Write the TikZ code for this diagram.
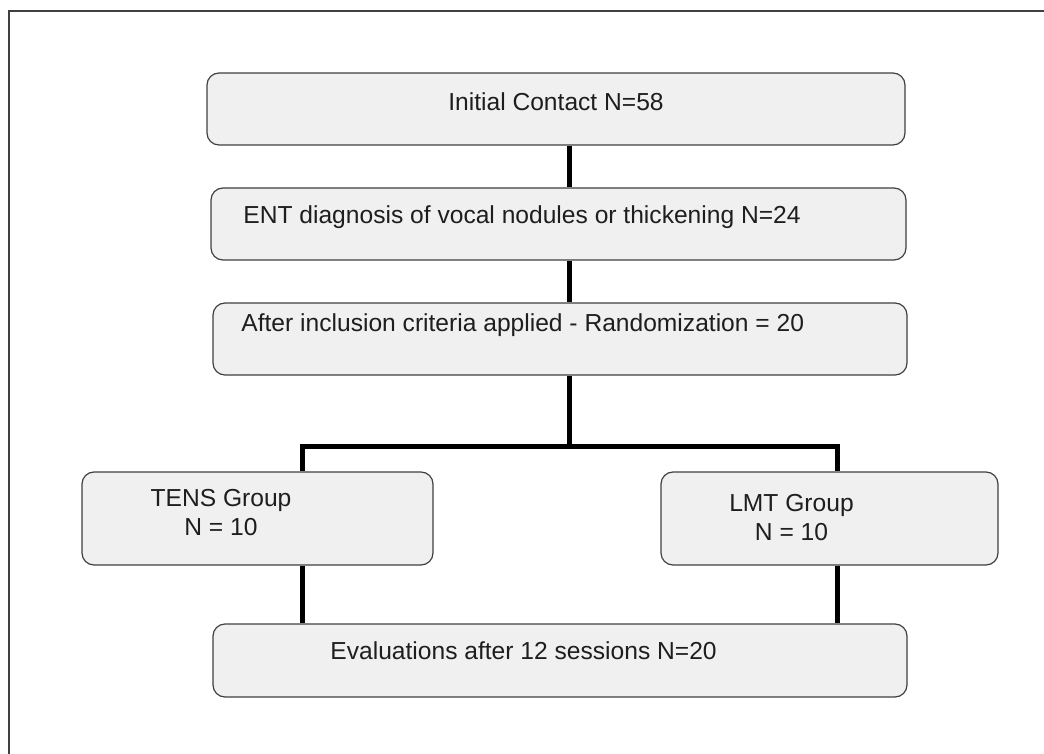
\documentclass[tikz,border=0pt]{standalone}
\usepackage{fontspec}
\setmainfont{Liberation Sans}
\usepackage{xcolor}
\usetikzlibrary{positioning, calc}
\definecolor{boxfill}{HTML}{F0F0F0}
\definecolor{boxline}{HTML}{404040}
\definecolor{txtcol}{HTML}{1E1E1E}
\tikzset{
  % flow box style
  fbox/.style={
    draw=boxline, fill=boxfill, line width=0.6pt,
    rounded corners=6pt, inner sep=0pt
  },
  % box text style
  ftxt/.style={
    text=txtcol, inner sep=0pt, align=center, anchor=base,
    font=\fontsize{12.3}{14.5}\selectfont
  },
  % connector style
  conn/.style={
    line width=2.5pt, black
  },
}
\begin{document}
\begin{tikzpicture}[x=0.5pt, y=-0.5pt]
          \useasboundingbox (0,0) rectangle (1044,754);
          % frame
          \draw[boxline, line width=1pt] (9,754) -- (9,11) -- (1044,11);

          \node (init) [fbox
                       , minimum width=349pt
                       , minimum height=36pt
                       ] at (556,109) {};
          \node (ent) [fbox
                      , minimum width=347.5pt
                      , minimum height=36pt
                      ] at (558.5,224) {};
          \node (rand) [fbox
                       , minimum width=347pt
                       , minimum height=36pt
                       ] at (560,339) {};
          \node (tens) [fbox
                       , minimum width=175.5pt
                       , minimum height=46.5pt
                       ] at (257.5,518.5) {};
          \node (lmt) [fbox
                      , minimum width=168.5pt
                      , minimum height=46.5pt
                      ] at (829.5,518.5) {};
          \node (eval) [fbox
                       , minimum width=347pt
                       , minimum height=36.5pt
                       ] at (560,660.5) {};

          \node (initT) [ftxt] at (556,111) {Initial Contact N=58};
          \node (entT) [ftxt, anchor=base west] at (243,224)
                    {ENT diagnosis of vocal nodules or thickening N=24};
          \node (randT) [ftxt, anchor=base west] at (241,331)
                    {After inclusion criteria applied - Randomization = 20};
          % base of the last line
          \node (tensT) [ftxt] at (221,535.5) {TENS Group\\N = 10};
          \node (lmtT) [ftxt] at (791.5,540) {LMT Group\\N = 10};
          \node (evalT) [ftxt, anchor=base west] at (330,659)
                    {Evaluations after 12 sessions N=20};

          \coordinate (mid) at (569,446);
          \coordinate (lft) at (302,446);
          \coordinate (rgt) at (837,446);

          \draw[conn] (init.south -| mid) -- (ent.north -| mid);
          \draw[conn] (ent.south -| mid) -- (rand.north -| mid);
          \draw[conn] (rand.south -| mid) -- (mid);
          \draw[conn] (tens.north -| lft) -- (lft) -- (rgt) -- (lmt.north -| rgt);
          \draw[conn] (tens.south -| lft) -- (eval.north -| lft);
          \draw[conn] (lmt.south -| rgt) -- (eval.north -| rgt);
      \end{tikzpicture}
\end{document}
